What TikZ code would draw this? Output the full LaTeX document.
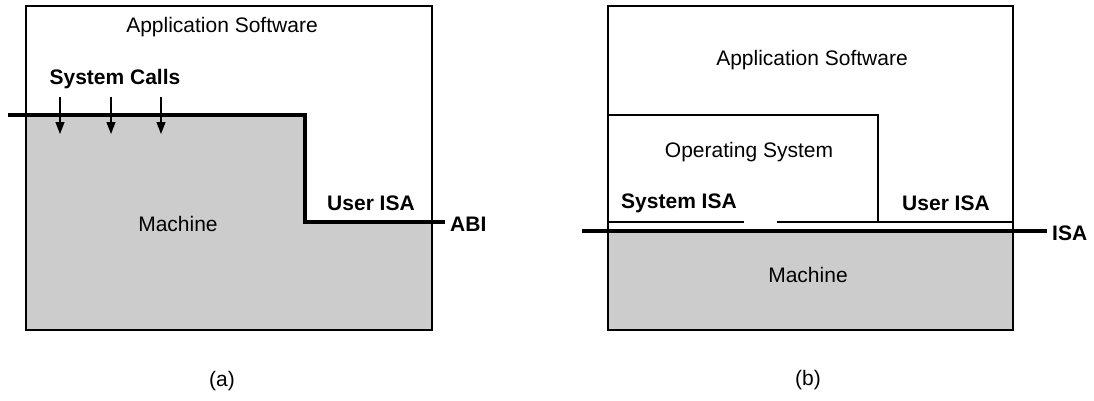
\documentclass[tikz,border=0pt]{standalone}
\usepackage{fontspec}
\setmainfont{Liberation Sans}
\usetikzlibrary{arrows.meta}
\definecolor{machgray}{HTML}{CCCCCC}
\begin{document}
\begin{tikzpicture}[x=1pt,y=-1pt,
  box/.style={draw=black,line width=1.6pt},
  thin/.style={draw=black,line width=1.3pt},
  thick/.style={draw=black,line width=3.2pt},
  lbl/.style={font=\fontsize{21}{25}\selectfont,inner sep=0pt},
  blbl/.style={font=\fontsize{21}{25}\selectfont\bfseries,inner sep=0pt},
  callarrow/.style={draw=black,line width=1.2pt,-{Triangle[length=12pt,width=9pt]}}]
\useasboundingbox (0,0) rectangle (1094,400);
% ---------- (a) ----------
\fill[machgray] (26,115) -- (305,115) -- (305,222) -- (432,222) -- (432,330) -- (26,330) -- cycle;
\draw[box] (26,6) rectangle (432,330);
\draw[thick] (8,115) -- (305,115) -- (305,222) -- (445,222);
\node[lbl] (appa) at (222,27) {Application Software};
\node[blbl] (sc) at (115,79) {System Calls};
\node[lbl] (macha) at (178,224) {Machine};
\node[blbl] (uisaa) at (371,203) {User ISA};
\node[blbl,anchor=west] (abi) at (450,224) {ABI};
\node[lbl] (capa) at (222,381) {(a)};
\foreach \x/\n in {60/1,111/2,161/3}{
  \coordinate (s\n) at (\x,97);
  \coordinate (e\n) at (\x,134);
  \draw[callarrow] (s\n) -- (e\n);
}
% ---------- (b) ----------
\fill[machgray] (608,231) rectangle (1013,330);
\draw[box] (608,6) rectangle (1013,330);
\draw[thin] (608,115) -- (878,115) -- (878,222);
\draw[thin] (608,222) -- (744,222);
\draw[thin] (777,222) -- (1013,222);
\draw[thick] (582,231) -- (1047,231);
\node[lbl] (appb) at (812,60) {Application Software};
\node[lbl] (os) at (749,152) {Operating System};
\node[blbl] (sisa) at (679,203) {System ISA};
\node[blbl] (uisab) at (946,203) {User ISA};
\node[blbl,anchor=west] (isa) at (1052,233) {ISA};
\node[lbl] (machb) at (808,275) {Machine};
\node[lbl] (capb) at (808,380) {(b)};
\end{tikzpicture}
\end{document}
